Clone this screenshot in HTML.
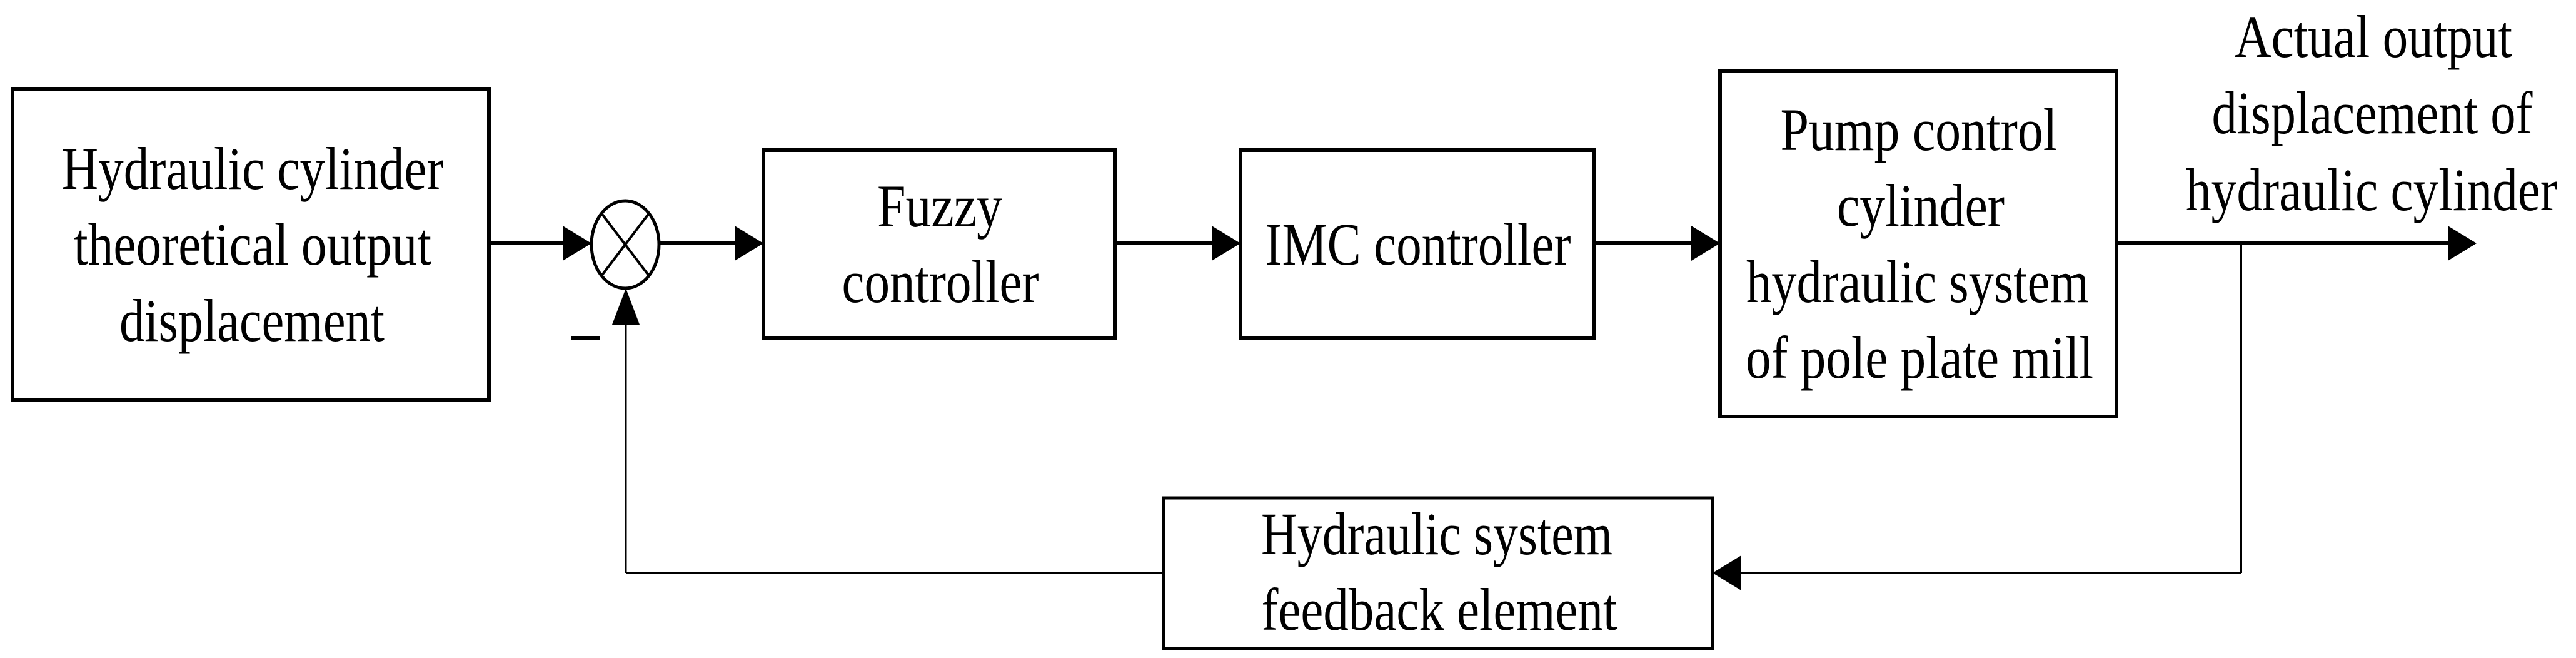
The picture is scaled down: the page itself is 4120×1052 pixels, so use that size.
<!DOCTYPE html>
<html><head><style>html,body{margin:0;padding:0;background:#fff}svg{display:block}</style></head>
<body>
<svg width="4120" height="1052" viewBox="0 0 4120 1052" xmlns="http://www.w3.org/2000/svg">
<g fill="none" stroke="#000">
<rect x="20" y="142" width="762" height="498" stroke-width="6"/>
<rect x="1221" y="240" width="562" height="300" stroke-width="6"/>
<rect x="1984" y="240" width="565" height="300" stroke-width="6"/>
<rect x="2751" y="114" width="634" height="552" stroke-width="6"/>
<rect x="1861" y="796" width="878" height="241" stroke-width="5"/>
<ellipse cx="1000" cy="391" rx="54" ry="70" stroke-width="5"/>
<line x1="962" y1="341" x2="1038" y2="441" stroke-width="4"/>
<line x1="1038" y1="341" x2="962" y2="441" stroke-width="4"/>
<line x1="782" y1="389" x2="905" y2="389" stroke-width="6"/>
<line x1="1055" y1="389" x2="1180" y2="389" stroke-width="6"/>
<line x1="1783" y1="389" x2="1942" y2="389" stroke-width="6"/>
<line x1="2549" y1="389" x2="2710" y2="389" stroke-width="6"/>
<line x1="3385" y1="389" x2="3920" y2="389" stroke-width="6"/>
<line x1="3584" y1="389" x2="3584" y2="916" stroke-width="4"/>
<line x1="3584" y1="916" x2="2780" y2="916" stroke-width="4"/>
<line x1="1861" y1="916" x2="1001" y2="916" stroke-width="3"/>
<line x1="1001" y1="916" x2="1001" y2="515" stroke-width="3"/>
</g>
<g fill="#000">
<polygon points="946,389 900,361 900,417"/>
<polygon points="1221,389 1175,361 1175,417"/>
<polygon points="1984,389 1938,361 1938,417"/>
<polygon points="2751,389 2705,361 2705,417"/>
<polygon points="3961,389 3915,361 3915,417"/>
<polygon points="2739,916 2785,888 2785,944"/>
<polygon points="1001,461 979,519 1023,519"/>
<rect x="913" y="537" width="46" height="6"/>
</g>
<g font-family="Liberation Serif, serif" font-size="96" text-anchor="middle" fill="#000" lengthAdjust="spacingAndGlyphs">
<text x="404" y="302" textLength="611" lengthAdjust="spacingAndGlyphs">Hydraulic cylinder</text>
<text x="404" y="423" textLength="572" lengthAdjust="spacingAndGlyphs">theoretical output</text>
<text x="403" y="545" textLength="424" lengthAdjust="spacingAndGlyphs">displacement</text>
<text x="1503" y="362" textLength="200" lengthAdjust="spacingAndGlyphs">Fuzzy</text>
<text x="1504" y="483" textLength="315" lengthAdjust="spacingAndGlyphs">controller</text>
<text x="2268" y="423" textLength="489" lengthAdjust="spacingAndGlyphs">IMC controller</text>
<text x="3069" y="240" textLength="443" lengthAdjust="spacingAndGlyphs">Pump control</text>
<text x="3072" y="361" textLength="268" lengthAdjust="spacingAndGlyphs">cylinder</text>
<text x="3067" y="483" textLength="548" lengthAdjust="spacingAndGlyphs">hydraulic system</text>
<text x="3070" y="604" textLength="556" lengthAdjust="spacingAndGlyphs">of pole plate mill</text>
<text x="3796" y="91" textLength="444" lengthAdjust="spacingAndGlyphs">Actual output</text>
<text x="3794" y="213" textLength="513" lengthAdjust="spacingAndGlyphs">displacement of</text>
<text x="3793" y="336" textLength="594" lengthAdjust="spacingAndGlyphs">hydraulic cylinder</text>
<text x="2298" y="886" textLength="562" lengthAdjust="spacingAndGlyphs">Hydraulic system</text>
<text x="2302" y="1007" textLength="569" lengthAdjust="spacingAndGlyphs">feedback element</text>
</g>
</svg>
</body></html>
